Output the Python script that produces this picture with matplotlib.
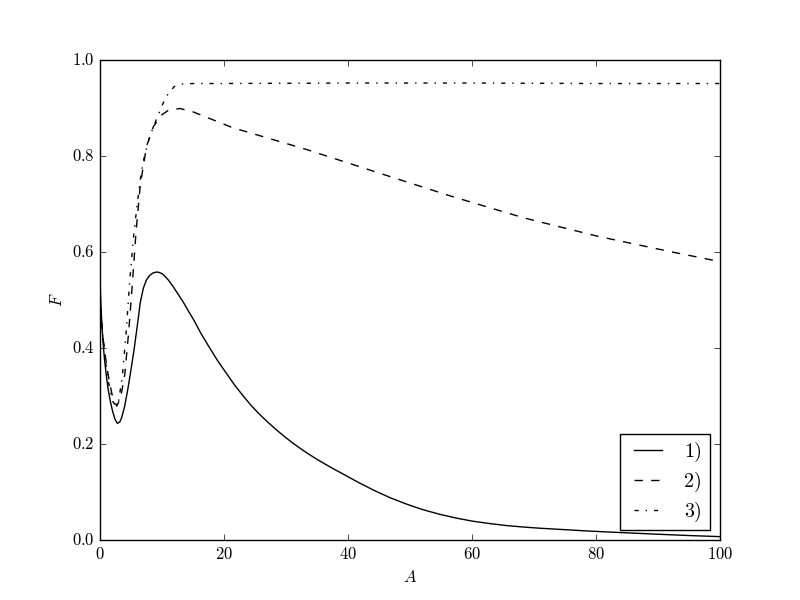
import numpy as np
import matplotlib
matplotlib.use("Agg")
import matplotlib.pyplot as plt

plt.style.use("classic")
plt.rcParams["font.family"] = "cmr10"
plt.rcParams["mathtext.fontset"] = "cm"
plt.rcParams["axes.unicode_minus"] = False
plt.rcParams["axes.formatter.use_mathtext"] = True

# curva 1) (continua)
A1 = [0, 0.15, 0.3, 0.5, 0.7, 1.0, 1.3, 1.65, 2.0, 2.4, 2.8, 3.2, 3.5, 4.0, 4.5,
      5.0, 5.5, 6.0, 6.5, 7.0, 7.5, 8.0, 8.5, 9.0, 9.4, 10.0, 10.5, 11.0, 11.8,
      12.5, 13.5, 14.3, 15.05, 16.3, 17.7, 19.0, 20.4, 21.7, 23.1, 24.4, 25.8,
      27.1, 28.5, 29.8, 31.2, 32.5, 33.9, 35.2, 36.6, 37.9, 39.2, 41.6, 44.1,
      46.8, 49.5, 52.0, 54.8, 57.5, 60.2, 63.0, 65.6, 68.3, 71.0, 75.0, 79.0,
      84.0, 90.0, 95.0, 100.0]
F1 = [0.54, 0.49, 0.45, 0.41, 0.38, 0.345, 0.315, 0.29, 0.27, 0.252, 0.243, 0.246,
      0.255, 0.28, 0.315, 0.355, 0.397, 0.445, 0.495, 0.525, 0.542, 0.551, 0.556,
      0.558, 0.558, 0.555, 0.549, 0.542, 0.528, 0.514, 0.494, 0.476, 0.46, 0.43,
      0.40, 0.373, 0.347, 0.323, 0.300, 0.280, 0.261, 0.245, 0.229, 0.215, 0.201,
      0.189, 0.177, 0.1665, 0.156, 0.1465, 0.1375, 0.1205, 0.104, 0.088, 0.0745,
      0.0635, 0.0535, 0.0455, 0.039, 0.034, 0.030, 0.027, 0.0245, 0.0215, 0.0185,
      0.0155, 0.012, 0.0093, 0.007]

# curva 2) (discontinua)
A2 = [0, 0.5, 1.0, 1.5, 2.0, 2.7, 3.3, 4.0, 4.6, 5.2, 5.8, 6.5, 7.5, 8.6, 9.9,
      11.0, 12.9, 15.0, 21.4, 33.2, 44.9, 56.7, 68.4, 80.2, 91.9, 100]
F2 = [0.49, 0.42, 0.37, 0.33, 0.30, 0.279, 0.295, 0.345, 0.43, 0.53, 0.64, 0.74,
      0.82, 0.861, 0.885, 0.895, 0.899, 0.892, 0.859, 0.814, 0.765, 0.716, 0.671,
      0.633, 0.601, 0.580]

# curva 3) (punto-raya)
A3 = [0, 0.5, 1, 1.5, 2, 2.5, 3.0, 3.6, 4.2, 4.8, 5.4, 6.0, 6.6, 7.0, 8, 9, 10,
      11, 12, 13, 15, 20, 40, 60, 80, 100]
F3 = [0.49, 0.42, 0.36, 0.32, 0.29, 0.28, 0.29, 0.34, 0.43, 0.54, 0.63, 0.70,
      0.76, 0.79, 0.84, 0.873, 0.905, 0.93, 0.945, 0.95, 0.951, 0.951, 0.952,
      0.952, 0.951, 0.951]

fig = plt.figure(figsize=(8, 6), dpi=100)
plt.plot(A1, F1, "k-", label="1)")
plt.plot(A2, F2, "k--", label="2)")
plt.plot(A3, F3, "k-.", label="3)")
plt.xlim(0, 100)
plt.ylim(0, 1)
plt.xlabel("$A$")
plt.ylabel("$F$")
plt.legend(loc="lower right")
plt.savefig("out.png", dpi=100)
